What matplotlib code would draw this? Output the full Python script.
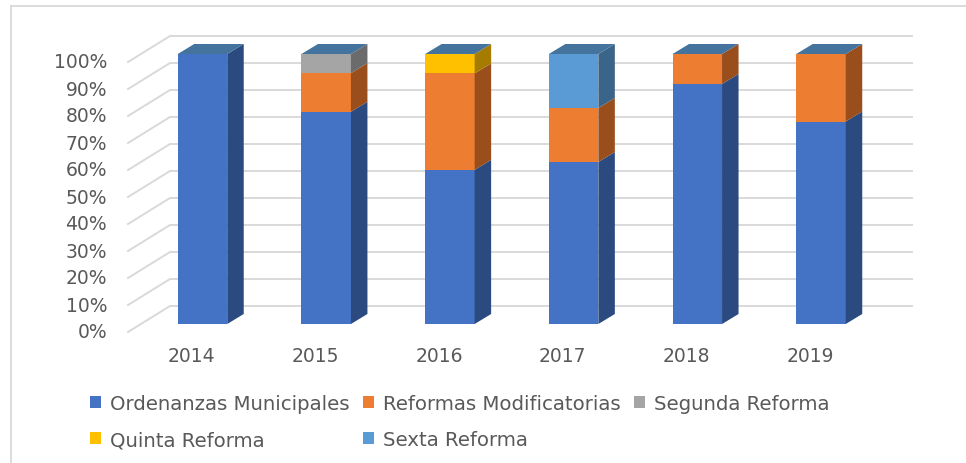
import matplotlib; matplotlib.use("Agg")
import matplotlib.pyplot as plt
from matplotlib.patches import Polygon, Patch
from matplotlib.lines import Line2D
import numpy as np

years = ["2014", "2015", "2016", "2017", "2018", "2019"]
series = ["Ordenanzas Municipales", "Reformas Modificatorias", "Segunda Reforma",
          "Quinta Reforma", "Sexta Reforma"]
ordenanzas = [100, 78.6, 57.1, 60.0, 88.9, 75.0]
reformas   = [0, 14.3, 35.7, 20.0, 11.1, 25.0]
segunda    = [0, 7.1, 0, 0, 0, 0]
quinta     = [0, 0, 7.2, 0, 0, 0]
sexta      = [0, 0, 0, 20.0, 0, 0]
ticks = [0, 10, 20, 30, 40, 50, 60, 70, 80, 90, 100]

front = ["#4472C4", "#ED7D31", "#A5A5A5", "#FFC000", "#5B9BD5"]
side  = ["#2B4A80", "#9A4E1C", "#6B6B6B", "#A67C00", "#3B6588"]
top_c = "#44739E"
grid_c = "#D9D9D9"
txt_c = "#595959"

W, H = 966, 464
fig = plt.figure(figsize=(W/100, H/100), dpi=100)
ax = fig.add_axes([0, 0, 1, 1])
# pixel mapping: category i -> 202.5 + 123.7*i ; percent p -> 325 - 2.7*p (from top)
PX, PY = 123.7, 2.7
ax.set_xlim(-202.5/PX, (W-202.5)/PX)
ax.set_ylim(-(H-325)/PY, 325/PY)
ax.axis("off")

bw = 0.4
dx, dy = 16.5/PX, 10/PY            # bar depth
wx = 42/PX                         # back wall offset from label line
lab_dy = -8/PY
x = np.arange(len(years))

# back wall gridlines + left diagonals
x_back0 = (170-202.5)/PX
x_back1 = (913-202.5)/PX
for t in ticks:
    yb = t + lab_dy + 26/PY
    ax.plot([x_back0, x_back1], [yb, yb], color=grid_c, lw=1.4, zorder=1, solid_capstyle="butt")
    ax.plot([x_back0 - wx, x_back0], [t + lab_dy, yb], color=grid_c, lw=1.4, zorder=1)
    ax.text((107-202.5)/PX, t + lab_dy, f"{t}%", ha="right", va="center",
            fontsize=13.5, color=txt_c)

data = [ordenanzas, reformas, segunda, quinta, sexta]
bottom = np.zeros(len(years))
for k, vals in enumerate(data):
    vals = np.array(vals, dtype=float)
    ax.bar(x, vals, bottom=bottom, width=bw, color=front[k], zorder=3, linewidth=0)
    for i in range(len(years)):
        if vals[i] <= 0:
            continue
        r = x[i] + bw/2
        b, t = bottom[i], bottom[i] + vals[i]
        ax.add_patch(Polygon([(r, b), (r+dx, b+dy), (r+dx, t+dy), (r, t)],
                             closed=True, facecolor=side[k], edgecolor="none", zorder=3))
    bottom += vals

for i in range(len(years)):
    l, r, t = x[i] - bw/2, x[i] + bw/2, bottom[i]
    ax.add_patch(Polygon([(l, t), (l+dx, t+dy), (r+dx, t+dy), (r, t)],
                         closed=True, facecolor=top_c, edgecolor="none", zorder=3))
    ax.text(x[i] - 11/PX, -31/PY, years[i], ha="center", va="center",
            fontsize=13.5, color=txt_c)

# legend (row-major order)
handles = [Patch(facecolor=c, edgecolor="none") for c in front]
order = [0, 3, 1, 4, 2]
leg = fig.legend([handles[j] for j in order], [series[j] for j in order],
                 ncol=3, loc="upper left", bbox_to_anchor=(90/W, 1-395/H),
                 frameon=False, fontsize=14.2, handlelength=0.56, handleheight=0.56,
                 handletextpad=0.45, columnspacing=0.68, labelspacing=0.88,
                 borderpad=0, borderaxespad=0)
for tx in leg.get_texts():
    tx.set_color(txt_c)

# chart frame (left and top edges visible)
fig.add_artist(Line2D([10.5/W, 10.5/W], [0, 1-7/H], color="#D9D9D9", lw=1.3))
fig.add_artist(Line2D([10.5/W, 1], [1-7/H, 1-7/H], color="#D9D9D9", lw=1.3))

fig.savefig("out.png", dpi=100)
